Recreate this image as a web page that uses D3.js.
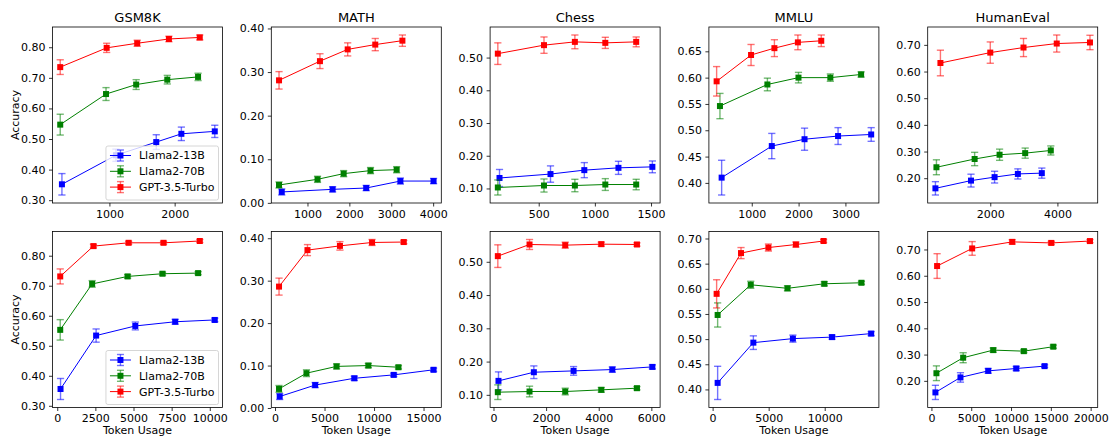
<!doctype html>
<html>
<head>
<meta charset="utf-8">
<title>Accuracy vs Token Usage</title>
<script src="https://cdn.jsdelivr.net/npm/d3@7"></script>
<style>
html,body{margin:0;padding:0;background:#fff;}
svg{display:block;font-family:"DejaVu Sans",sans-serif;}
</style>
</head>
<body>
<svg id="chart" width="1109" height="437"></svg>
<script>
var models = ["Llama2-13B", "Llama2-70B", "GPT-3.5-Turbo"];
var colors = ["blue", "green", "red"];
var tasks = ["GSM8K", "MATH", "Chess", "MMLU", "HumanEval"];

// ---- top row : [13B, 70B, GPT] ----
var gsm8kTok = [[272,1100,1718,2103,2615],[246,948,1410,1887,2359],[246,958,1426,1912,2385]];
var gsm8kAcc = [[0.352,0.447,0.490,0.517,0.525],[0.547,0.647,0.678,0.694,0.703],[0.735,0.798,0.813,0.827,0.832]];
var gsm8kErr = [[0.035,0.020,0.024,0.022,0.020],[0.034,0.021,0.016,0.014,0.012],[0.024,0.015,0.010,0.009,0.008]];

var mathTok = [[386,1600,2402,3218,4010],[321,1240,1864,2505,3129],[321,1298,1960,2618,3266]];
var mathAcc = [[0.025,0.031,0.034,0.050,0.050],[0.041,0.054,0.067,0.074,0.076],[0.281,0.325,0.352,0.363,0.372]];
var mathErr = [[0.007,0.006,0.006,0.007,0.006],[0.007,0.007,0.007,0.007,0.007],[0.020,0.017,0.015,0.014,0.013]];

var chessTok = [[151,605,906,1210,1512],[136,547,822,1093,1368],[136,547,822,1093,1368]];
var chessAcc = [[0.132,0.144,0.156,0.163,0.166],[0.103,0.109,0.109,0.112,0.112],[0.512,0.538,0.548,0.545,0.548]];
var chessErr = [[0.026,0.025,0.023,0.020,0.018],[0.023,0.020,0.019,0.018,0.016],[0.033,0.025,0.021,0.017,0.015]];

var mmluTok = [[357,1428,2127,2843,3550],[321,1334,1998,2678,3335],[250,985,1484,1985,2484]];
var mmluAcc = [[0.410,0.470,0.483,0.489,0.492],[0.546,0.587,0.600,0.600,0.606],[0.593,0.643,0.656,0.667,0.670]];
var mmluErr = [[0.033,0.024,0.021,0.016,0.013],[0.024,0.012,0.010,0.007,0.005],[0.028,0.020,0.016,0.014,0.011]];

var humanTok = [[366,1426,2128,2822,3535],[396,1534,2277,3040,3803],[515,2000,2990,3980,4970]];
var humanAcc = [[0.162,0.191,0.204,0.216,0.219],[0.241,0.272,0.288,0.294,0.304],[0.632,0.671,0.690,0.705,0.709]];
var humanErr = [[0.025,0.024,0.022,0.019,0.019],[0.028,0.025,0.021,0.019,0.017],[0.048,0.040,0.034,0.032,0.027]];

// ---- bottom row ----
var gsm8kTok2 = [[216,2549,5118,7732,10327],[196,2288,4614,6902,9235],[196,2373,4680,6967,9346]];
var gsm8kAcc2 = [[0.356,0.534,0.566,0.580,0.586],[0.553,0.706,0.731,0.740,0.742],[0.731,0.832,0.843,0.843,0.849]];
var gsm8kErr2 = [[0.035,0.022,0.013,0.008,0.006],[0.034,0.011,0.006,0.005,0.005],[0.025,0.006,0.005,0.005,0.005]];

var mathTok2 = [[473,4054,8007,11990,16013],[405,3176,6216,9425,12466],[405,3277,6557,9800,13004]];
var mathAcc2 = [[0.027,0.054,0.070,0.078,0.090],[0.045,0.082,0.098,0.100,0.096],[0.286,0.372,0.382,0.390,0.391]];
var mathErr2 = [[0.007,0.006,0.005,0.004,0.004],[0.008,0.008,0.006,0.005,0.004],[0.020,0.013,0.010,0.007,0.004]];

var chessTok2 = [[190,1534,3044,4517,6039],[165,1370,2727,4097,5453],[165,1370,2727,4097,5453]];
var chessAcc2 = [[0.142,0.168,0.172,0.176,0.184],[0.108,0.110,0.110,0.115,0.120],[0.517,0.552,0.550,0.553,0.552]];
var chessErr2 = [[0.027,0.019,0.013,0.008,0.006],[0.022,0.016,0.010,0.007,0.005],[0.034,0.015,0.009,0.006,0.005]];

var mmluTok2 = [[448,3635,7162,10654,14145],[448,3402,6678,9964,13277],[358,2534,4978,7431,9901]];
var mmluAcc2 = [[0.413,0.493,0.501,0.504,0.511],[0.548,0.608,0.601,0.610,0.612],[0.590,0.671,0.682,0.688,0.695]];
var mmluErr2 = [[0.033,0.0135,0.007,0.004,0.004],[0.024,0.007,0.005,0.004,0.003],[0.028,0.011,0.007,0.005,0.003]];

var humanTok2 = [[503,3648,7132,10654,14214],[629,3987,7761,11610,15308],[713,5117,10147,15054,19916]];
var humanAcc2 = [[0.156,0.213,0.238,0.247,0.256],[0.229,0.288,0.317,0.313,0.330],[0.637,0.704,0.729,0.725,0.732]];
var humanErr2 = [[0.027,0.018,0.009,0.008,0.005],[0.028,0.019,0.008,0.006,0.006],[0.047,0.026,0.008,0.006,0.006]];

// tick labels
var yTicksTop = [[0.3,0.4,0.5,0.6,0.7,0.8],[0,0.1,0.2,0.3,0.4],[0.1,0.2,0.3,0.4,0.5],[0.40,0.45,0.50,0.55,0.60,0.65],[0.2,0.3,0.4,0.5,0.6,0.7]];
var yTicksBottom = [[0.3,0.4,0.5,0.6,0.7,0.8],[0,0.1,0.2,0.3,0.4],[0.1,0.2,0.3,0.4,0.5],[0.40,0.45,0.50,0.55,0.60,0.65,0.70],[0.2,0.3,0.4,0.5,0.6,0.7]];
var xTicksTop = [[1000,2000],[1000,2000,3000,4000],[500,1000,1500],[1000,2000,3000],[2000,4000]];
var xTicksBottom = [[0,2500,5000,7500,10000],[0,5000,10000,15000],[0,2000,4000,6000],[0,5000,10000],[0,5000,10000,15000,20000]];

var rows = [
  [[gsm8kTok,gsm8kAcc,gsm8kErr],[mathTok,mathAcc,mathErr],[chessTok,chessAcc,chessErr],[mmluTok,mmluAcc,mmluErr],[humanTok,humanAcc,humanErr]],
  [[gsm8kTok2,gsm8kAcc2,gsm8kErr2],[mathTok2,mathAcc2,mathErr2],[chessTok2,chessAcc2,chessErr2],[mmluTok2,mmluAcc2,mmluErr2],[humanTok2,humanAcc2,humanErr2]]
];
var yTicks = [yTicksTop, yTicksBottom];
var xTicks = [xTicksTop, xTicksBottom];

var W = 170, H = 176;
var lefts = [52.5, 271.3, 490.1, 708.9, 927.7];
var tops = [27, 231.5];
var FS = 11;
var MK = 6;

var svg = d3.select("#chart");

function pad(lo, hi){ var m = (hi - lo) * 0.05; return [lo - m, hi + m]; }

rows.forEach(function(row, r){
  row.forEach(function(p, c){
    var tok = p[0], acc = p[1], err = p[2];
    var xs = d3.merge(tok);
    var lo = d3.min(acc, function(a, i){ return d3.min(a, function(v, j){ return v - err[i][j]; }); });
    var hi = d3.max(acc, function(a, i){ return d3.max(a, function(v, j){ return v + err[i][j]; }); });
    var x = d3.scaleLinear().domain(pad(d3.min(xs), d3.max(xs))).range([0, W]);
    var y = d3.scaleLinear().domain(pad(lo, hi)).range([H, 0]);

    var g = svg.append("g").attr("transform", "translate(" + lefts[c] + "," + tops[r] + ")");

    // series
    for (var m = 0; m < 3; m++){
      var pts = tok[m].map(function(v, j){ return {x: v, y: acc[m][j], e: err[m][j]}; });
      var sg = g.append("g");
      var eb = sg.append("g").attr("stroke", colors[m]).attr("stroke-opacity", 0.55).attr("stroke-width", 1.4);
      pts.forEach(function(d){
        var cx = x(d.x), y0 = y(d.y - d.e), y1 = y(d.y + d.e);
        eb.append("line").attr("x1", cx).attr("x2", cx).attr("y1", y0).attr("y2", y1);
        eb.append("line").attr("x1", cx - 3.6).attr("x2", cx + 3.6).attr("y1", y0).attr("y2", y0);
        eb.append("line").attr("x1", cx - 3.6).attr("x2", cx + 3.6).attr("y1", y1).attr("y2", y1);
      });
      sg.append("path")
        .attr("d", d3.line().x(function(d){ return x(d.x); }).y(function(d){ return y(d.y); })(pts))
        .attr("fill", "none").attr("stroke", colors[m]).attr("stroke-width", 1);
      sg.selectAll("rect").data(pts).enter().append("rect")
        .attr("x", function(d){ return x(d.x) - MK / 2; })
        .attr("y", function(d){ return y(d.y) - MK / 2; })
        .attr("width", MK).attr("height", MK)
        .attr("fill", colors[m]);
    }

    // axes
    var ya = g.append("g").call(d3.axisLeft(y).tickValues(yTicks[r][c]).tickFormat(d3.format(".2f"))
      .tickSize(3.5).tickPadding(3.5).tickSizeOuter(0));
    var xa = g.append("g").attr("transform", "translate(0," + H + ")")
      .call(d3.axisBottom(x).tickValues(xTicks[r][c]).tickFormat(d3.format("d"))
      .tickSize(3.5).tickPadding(3.5).tickSizeOuter(0));
    [ya, xa].forEach(function(a){
      a.select(".domain").remove();
      a.selectAll("line").attr("stroke", "#000").attr("stroke-width", 0.8);
      a.selectAll("text").attr("fill", "#000").style("font-size", FS + "px").style("font-family", "DejaVu Sans");
    });

    g.append("rect").attr("width", W).attr("height", H)
      .attr("fill", "none").attr("stroke", "#000").attr("stroke-width", 0.8);

    if (r === 0){
      g.append("text").attr("x", W / 2).attr("y", -5).attr("text-anchor", "middle")
        .style("font-size", "13px").text(tasks[c]);
    } else {
      g.append("text").attr("x", W / 2).attr("y", H + 26).attr("text-anchor", "middle")
        .style("font-size", FS + "px").text("Token Usage");
    }

    if (c === 0){
      g.append("text").attr("transform", "translate(" + (-34) + "," + (H / 2) + ") rotate(-90)")
        .attr("text-anchor", "middle").style("font-size", FS + "px").text("Accuracy");

      // legend, lower right
      var lg = g.append("g");
      var frame = lg.append("rect");
      var items = lg.selectAll("g.item").data(models).enter().append("g").attr("class", "item")
        .attr("transform", function(d, i){ return "translate(0," + (i * 15.8) + ")"; });
      items.append("line").attr("x1", 0).attr("x2", 21).attr("y1", 0).attr("y2", 0)
        .attr("stroke", function(d, i){ return colors[i]; }).attr("stroke-width", 1);
      items.each(function(d, i){
        var it = d3.select(this);
        var eg = it.append("g").attr("stroke", colors[i]).attr("stroke-opacity", 0.55).attr("stroke-width", 1.4);
        eg.append("line").attr("x1", 10.5).attr("x2", 10.5).attr("y1", -5.5).attr("y2", 5.5);
        eg.append("line").attr("x1", 7).attr("x2", 14).attr("y1", -5.5).attr("y2", -5.5);
        eg.append("line").attr("x1", 7).attr("x2", 14).attr("y1", 5.5).attr("y2", 5.5);
        it.append("rect").attr("x", 10.5 - MK / 2).attr("y", -MK / 2).attr("width", MK).attr("height", MK).attr("fill", colors[i]);
      });
      var txt = items.append("text").attr("x", 29).attr("y", 0).attr("dy", "0.36em")
        .style("font-size", FS + "px").text(function(d){ return d; });
      var tw = d3.max(txt.nodes(), function(n){ return n.getComputedTextLength(); });
      var lw = 4 + 29 + tw + 4, lh = 54;
      var lx = W - 4 - lw, ly = H - 3 - lh;
      frame.attr("x", -4).attr("y", -9.5).attr("width", lw).attr("height", lh).attr("rx", 2)
        .attr("fill", "#fff").attr("fill-opacity", 0.8).attr("stroke", "#ccc").attr("stroke-width", 0.8);
      lg.attr("transform", "translate(" + (lx + 4) + "," + (ly + 9.5) + ")");
    }
  });
});
</script>
</body>
</html>
